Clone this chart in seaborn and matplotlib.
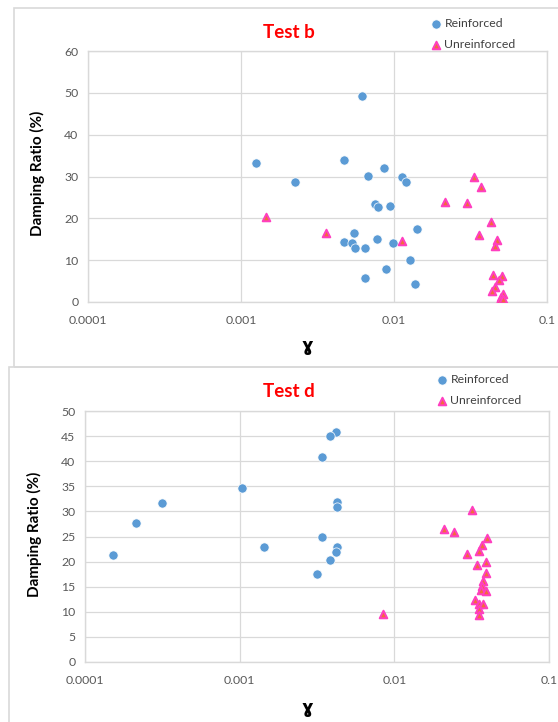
import pandas as pd
import matplotlib
matplotlib.use("Agg")
import matplotlib.pyplot as plt
from matplotlib.patches import Rectangle
from matplotlib.ticker import NullLocator
import seaborn as sns

# ---------------------------------
# DATA
# ---------------------------------

b_reinf_strain = [0.00125, 0.00225, 0.0062, 0.0047, 0.0068, 0.0086, 0.0113, 0.0119,
                  0.0075, 0.0079, 0.0094, 0.0055, 0.0047, 0.0053, 0.0056, 0.0065,
                  0.0077, 0.0099, 0.0127, 0.0088, 0.0065, 0.0142, 0.0137]
b_reinf_damping = [33.3, 28.8, 49.2, 34.0, 30.1, 32.0, 29.8, 28.6,
                   23.4, 22.8, 23.0, 16.6, 14.3, 14.2, 12.8, 12.8,
                   15.0, 14.1, 10.0, 8.0, 5.8, 17.5, 4.4]

b_unreinf_strain = [0.00146, 0.0036, 0.0113, 0.0332, 0.0372, 0.0214, 0.0299, 0.0433,
                    0.0358, 0.0471, 0.0457, 0.0442, 0.0506, 0.0485, 0.0459, 0.0435,
                    0.0515, 0.0498, 0.049, 0.0517]
b_unreinf_damping = [20.3, 16.5, 14.6, 30.0, 27.4, 23.9, 23.7, 19.2,
                     15.9, 14.8, 13.5, 6.4, 6.1, 5.3, 3.7, 2.6,
                     1.9, 1.1, 0.5, 0.6]

d_reinf_strain = [0.000152, 0.000215, 0.000313, 0.00104, 0.00143, 0.0042, 0.00386,
                  0.00343, 0.00423, 0.00423, 0.00343, 0.00423, 0.0042, 0.00386, 0.00315]
d_reinf_damping = [21.3, 27.6, 31.6, 34.7, 23.0, 45.9, 45.0,
                   40.8, 31.9, 30.9, 24.9, 23.0, 22.0, 20.3, 17.5]

d_unreinf_strain = [0.0084, 0.0316, 0.0209, 0.0243, 0.0397, 0.0367, 0.0351, 0.0293,
                    0.0393, 0.0342, 0.0393, 0.0372, 0.0369, 0.0363, 0.0393, 0.033,
                    0.0354, 0.0377, 0.0353, 0.0351]
d_unreinf_damping = [9.5, 30.3, 26.4, 25.9, 24.8, 23.4, 22.1, 21.5,
                     19.9, 19.3, 17.8, 16.1, 15.1, 14.3, 14.1, 12.3,
                     11.6, 11.6, 10.6, 9.4]

x_ticks = [0.0001, 0.001, 0.01, 0.1]
x_tick_labels = ["0.0001", "0.001", "0.01", "0.1"]
b_y_ticks = [0, 10, 20, 30, 40, 50, 60]
d_y_ticks = [0, 5, 10, 15, 20, 25, 30, 35, 40, 45, 50]

series_names = ["Reinforced", "Unreinforced"]

# ---------------------------------
# STYLE
# ---------------------------------

sns.set_style("white")
plt.rcParams["font.family"] = ["Lato", "DejaVu Sans"]

BLUE = "#5B9BD5"
TRI_FACE = "#F26B3A"
TRI_EDGE = "#FF3FC0"
GRID = "#D9D9D9"
TICK = "#595959"

W, H = 558, 722
fig = plt.figure(figsize=(W / 100, H / 100), dpi=100)


def fx(px):
    return px / W


def fy(py):
    return 1 - py / H


# chart borders (two stacked excel charts)
fig.patches.append(Rectangle((fx(14), fy(367)), 1.0, fy(8) - fy(367),
                             transform=fig.transFigure, fill=False,
                             edgecolor=GRID, linewidth=1.2))
fig.patches.append(Rectangle((fx(9), fy(740)), 1.0, fy(367) - fy(740),
                             transform=fig.transFigure, fill=False,
                             edgecolor=GRID, linewidth=1.2))


def draw_panel(rect, title, title_y, ylab_xy, gam_xy, leg_xy,
               rs, rd, us, ud, yticks):
    ax = fig.add_axes(rect)
    df_r = pd.DataFrame({"strain": rs, "damping": rd})
    df_u = pd.DataFrame({"strain": us, "damping": ud})

    sns.scatterplot(data=df_r, x="strain", y="damping", ax=ax,
                    color=BLUE, marker="o", s=44, edgecolor="white",
                    linewidth=0.5, label=series_names[0], zorder=3)
    sns.scatterplot(data=df_u, x="strain", y="damping", ax=ax,
                    color=TRI_FACE, marker="^", s=30, edgecolor=TRI_EDGE,
                    linewidth=1.4, label=series_names[1], zorder=4)

    ax.set_xscale("log")
    ax.set_xlim(x_ticks[0], x_ticks[-1])
    ax.set_ylim(yticks[0], yticks[-1])
    ax.set_xticks(x_ticks)
    ax.set_xticklabels(x_tick_labels)
    ax.xaxis.set_minor_locator(NullLocator())
    ax.set_yticks(yticks)
    ax.set_yticklabels([str(v) for v in yticks])
    ax.tick_params(length=0, labelsize=8.8, labelcolor=TICK)
    ax.tick_params(axis="x", pad=9)
    ax.tick_params(axis="y", pad=7)
    ax.grid(True, color=GRID, linewidth=0.9)
    ax.set_axisbelow(True)
    for sp in ax.spines.values():
        sp.set_color(GRID)
        sp.set_linewidth(1.0)
    ax.set_xlabel("")
    ax.set_ylabel("")

    ax.legend(loc="upper left", bbox_to_anchor=leg_xy,
              bbox_transform=fig.transFigure, frameon=False,
              fontsize=8.8, handlelength=0.8, handletextpad=0.3,
              labelspacing=0.85, borderpad=0, borderaxespad=0,
              labelcolor="#404040")

    fig.text(fx(289), fy(title_y), title, color="red", fontsize=13.5,
             fontweight="bold", ha="center", va="center")
    fig.text(fx(ylab_xy[0]), fy(ylab_xy[1]), "Damping Ratio (%)",
             rotation=90, fontsize=11, fontweight="bold",
             ha="center", va="center", color="black")
    fig.text(fx(gam_xy[0]), fy(gam_xy[1]), "\u0263", fontsize=13,
             fontweight="bold", ha="center", va="center",
             family=["DejaVu Sans"], color="black")
    return ax


# ---------------------------------
# TEST b
# ---------------------------------

draw_panel([fx(88), fy(302), fx(547) - fx(88), fy(51) - fy(302)],
           "Test b", 32, (37, 173), (307, 346), (fx(431), fy(18)),
           b_reinf_strain, b_reinf_damping, b_unreinf_strain, b_unreinf_damping,
           b_y_ticks)

# ---------------------------------
# TEST d
# ---------------------------------

draw_panel([fx(85), fy(662), fx(549) - fx(85), fy(411) - fy(662)],
           "Test d", 391, (34, 534), (307, 708), (fx(437), fy(374)),
           d_reinf_strain, d_reinf_damping, d_unreinf_strain, d_unreinf_damping,
           d_y_ticks)

fig.savefig("out.png", dpi=100, facecolor="white")
